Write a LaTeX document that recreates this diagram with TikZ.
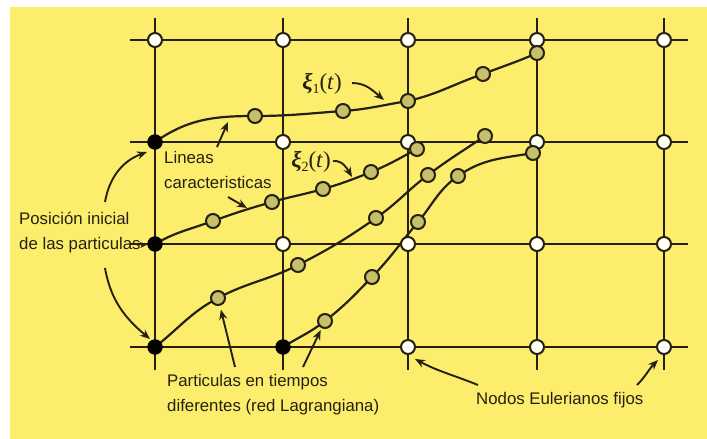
\documentclass[tikz,border=0pt]{standalone}
\usepackage{fontspec}
\setmainfont{Liberation Sans}
\newfontfamily\serifx{Liberation Serif}
\usetikzlibrary{arrows.meta,backgrounds}
\pgfdeclarelayer{bottom}
\pgfsetlayers{bottom,background,main}
\definecolor{bgy}{RGB}{252,238,108}
\definecolor{ink}{RGB}{38,32,18}
\definecolor{pfill}{RGB}{198,192,106}
\definecolor{efill}{RGB}{255,255,245}
\newcommand{\xilabel}[1]{{\serifx\bfseries\itshape ξ}{\serifx\raisebox{-4pt}{\fontsize{14}{14}\selectfont #1}(\textit{t})}}
\begin{document}
\begin{tikzpicture}[x=1pt,y=1pt,
  gridline/.style={draw=ink,line width=2.4pt},
  traj/.style={draw=ink,line width=2.2pt},
  enode/.style={circle,draw=ink,line width=2pt,fill=efill,minimum size=14pt,inner sep=0pt},
  pnode/.style={circle,draw=ink,line width=2pt,fill=pfill,minimum size=14pt,inner sep=0pt},
  bnode/.style={circle,fill=black!90!ink,minimum size=15.5pt,inner sep=0pt},
  lbl/.style={font=\fontsize{16.8}{25}\selectfont,text=ink,align=left,inner sep=0pt},
  xlbl/.style={font=\fontsize{23}{25}\selectfont,text=ink,inner sep=0pt},
  arr/.style={draw=ink,line width=1.9pt,-{Stealth[length=10pt,width=8pt]}}]

\begin{pgfonlayer}{bottom}
\fill[white] (0,0) rectangle (707,-439);
\fill[bgy] (10,-7) rectangle (707,-439);
\end{pgfonlayer}
\useasboundingbox (0,0) rectangle (707,-439);

% Eulerian nodes
\foreach \n/\x/\y in {e11/155/40,e12/283/40,e13/408/40,e14/537/40,e15/664/40,
  e22/283/142,e23/408/142,e24/537/142,e25/664/142,
  e32/283/244,e33/408/244,e34/537/244,e35/664/244,
  e43/408/347,e44/537/347,e45/664/347}
  \node[enode] (\n) at (\x,-\y) {};

% initial particle positions
\node[bnode] (s1) at (155,-142) {};
\node[bnode] (s2) at (155,-244) {};
\node[bnode] (s3) at (155,-347) {};
\node[bnode] (s4) at (283,-347) {};

% particles
\foreach \n/\x/\y in {p11/255/116,p12/343/111,p13/408/101,p14/483/74,p15/537/53,
  p21/213/221,p22/272/202,p23/323/189,p24/371/172,p25/417/149,
  p31/218/298,p32/298/265,p33/376/218,p34/428/175,p35/485/136,
  p41/325/321,p42/372/277,p43/418/222,p44/458/176,p45/533/153}
  \node[pnode] (\n) at (\x,-\y) {};

\begin{pgfonlayer}{background}
  \foreach \x in {155,283,408,537,664} \draw[gridline] (\x,-18) -- (\x,-370);
  \foreach \y in {40,142,244,347} \draw[gridline] (130,-\y) -- (688,-\y);
  \draw[traj] (s1.center) to[out=35,in=180] (p11.center) to[out=0,in=184] (p12.center)
     to[out=4,in=189] (p13.center) to[out=13,in=199] (p14.center) to[out=21,in=204] (p15.center);
  \draw[traj] (s2.center) to[out=30,in=200] (p21.center) to[out=20,in=196] (p22.center)
     to[out=16,in=196] (p23.center) to[out=16,in=202] (p24.center) to[out=22,in=208] (p25.center);
  \draw[traj] (s3.center) to[out=38,in=208] (p31.center) to[out=28,in=207] (p32.center)
     to[out=27,in=215] (p33.center) to[out=35,in=217] (p34.center) to[out=37,in=214] (p35.center);
  \draw[traj] (s4.center) to[out=32,in=218] (p41.center) to[out=38,in=226] (p42.center)
     to[out=46,in=230] (p43.center) to[out=50,in=215] (p44.center) to[out=35,in=190] (p45.center);
\end{pgfonlayer}

% labels
\node[xlbl] (x1) at (322,-84) {\xilabel{1}};
\node[xlbl] (x2) at (311,-162) {\xilabel{2}};
\node[lbl,anchor=west] (ll) at (164,-170) {Lineas\\caracteristicas};
\node[lbl,anchor=west] (lp) at (19,-233) {Posición inicial\\de las particulas};
\node[lbl,anchor=west] (lt) at (167,-395) {Particulas en tiempos\\diferentes (red Lagrangiana)};
\node[lbl,anchor=west] (ln) at (476,-400) {Nodos Eulerianos fijos};

% arrow ends
\coordinate (ax1a) at (352,-83);   \coordinate (ax1b) at (384,-100);
\coordinate (ax2a) at (333,-161);  \coordinate (ax2b) at (352,-177);
\coordinate (ala) at (217,-147);   \coordinate (alb) at (228,-122);
\coordinate (aca) at (228,-197);   \coordinate (acb) at (247,-208);
\coordinate (apa) at (105,-202);   \coordinate (apb) at (147,-152);
\coordinate (aqa) at (105,-268);   \coordinate (aqb) at (150,-339);
\coordinate (ara) at (141,-245);
\coordinate (ata) at (235,-367);   \coordinate (ava) at (303,-367);
\coordinate (ana) at (478,-385);   \coordinate (anb) at (415,-359);
\coordinate (ama) at (637,-385);   \coordinate (amb) at (658,-360);

\draw[arr] (ax1a) to[out=0,in=140] (ax1b);
\draw[arr] (ax2a) to[out=5,in=120] (ax2b);
\draw[arr] (ala) -- (alb);
\draw[arr] (aca) -- (acb);
\draw[arr] (apa) to[out=80,in=200] (apb);
\draw[arr] (aqa) to[out=-80,in=140] (aqb);
\draw[draw=ink,line width=1.5pt,-{Stealth[length=7pt,width=6pt]}] (ara) -- (s2);
\draw[arr,shorten >=4pt] (ata) -- (p31);
\draw[arr,shorten >=2pt] (ava) -- (p41);
\draw[arr] (ana) to[out=158,in=-28] (anb);
\draw[arr] (ama) to[out=45,in=-135] (amb);
\end{tikzpicture}
\end{document}
